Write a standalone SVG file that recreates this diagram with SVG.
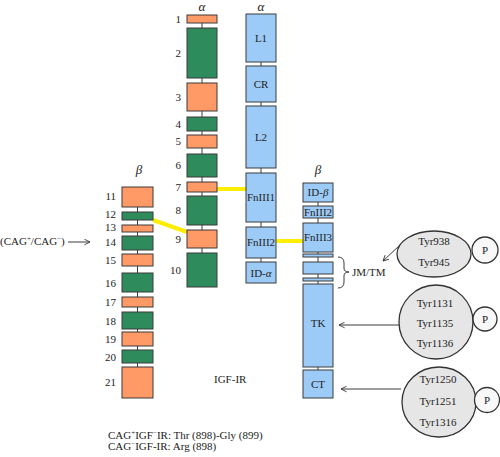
<svg xmlns="http://www.w3.org/2000/svg" width="500" height="457" viewBox="0 0 500 457">
<defs>
<style>
.o{fill:#FF9966;stroke:#3a3a3a;stroke-width:1}
.g{fill:#2E8B5C;stroke:#3a3a3a;stroke-width:1}
.b{fill:#9DCBF7;stroke:#3a3a3a;stroke-width:1}
.c{stroke:#3a3a3a;stroke-width:1;fill:none}
.y{stroke:#FFEE00;stroke-width:4;fill:none}
.t{font-family:"Liberation Serif","Times New Roman",serif;font-size:11px;fill:#222}
.n{font-family:"Liberation Serif","Times New Roman",serif;font-size:11px;fill:#222;text-anchor:end}
.m{text-anchor:middle}
.gr{font-family:"Liberation Serif","Times New Roman",serif;font-size:13px;font-style:italic;fill:#222;text-anchor:middle}
.e{fill:#E6E6E6;stroke:#333;stroke-width:1.3}
.p{fill:#F8F8F8;stroke:#333;stroke-width:1.3}
.a{stroke:#3a3a3a;stroke-width:1;fill:none}
</style>
<marker id="ah" viewBox="0 0 10 10" refX="9" refY="5" markerWidth="7" markerHeight="7" orient="auto" markerUnits="userSpaceOnUse">
<path d="M1,1 L9,5 L1,9" fill="none" stroke="#3a3a3a" stroke-width="1.3"/>
</marker>
</defs>
<rect width="500" height="457" fill="#fff"/>

<g id="connectors">
<line class="c" x1="202" y1="19" x2="202" y2="270"/>
<line class="c" x1="261" y1="20" x2="261" y2="275"/>
<line class="c" x1="137.5" y1="190" x2="137.5" y2="398"/>
<line class="c" x1="318" y1="190" x2="318" y2="390"/>
<line class="y" x1="217" y1="189" x2="246" y2="189"/>
<line class="y" x1="276" y1="241" x2="303" y2="241"/>
<line class="y" x1="153" y1="220" x2="187" y2="232"/>
<line class="a" x1="68" y1="242" x2="90" y2="242" marker-end="url(#ah)"/>
<line class="a" x1="400" y1="245" x2="383" y2="261" marker-end="url(#ah)"/>
<line class="a" x1="399" y1="325" x2="339" y2="325" marker-end="url(#ah)"/>
<line class="a" x1="401" y1="389" x2="341" y2="389" marker-end="url(#ah)"/>
<path class="a" d="M338,257 Q344,257 344,263 L344,268 Q344,272 349,272 Q344,272 344,276 L344,282 Q344,288 338,288"/>
</g>

<g id="alpha-exons">
<text class="gr" x="202" y="11">α</text>
<rect class="o" x="187" y="15" width="30" height="8"/>
<rect class="g" x="187" y="28" width="30" height="50"/>
<rect class="o" x="187" y="83" width="30" height="28"/>
<rect class="g" x="187" y="117" width="30" height="14"/>
<rect class="o" x="187" y="135" width="30" height="13"/>
<rect class="g" x="187" y="154" width="30" height="23"/>
<rect class="o" x="187" y="182" width="30" height="10"/>
<rect class="g" x="187" y="196" width="30" height="29"/>
<rect class="o" x="187" y="230" width="30" height="18"/>
<rect class="g" x="187" y="253" width="30" height="34"/>
<text class="n" x="181" y="23">1</text>
<text class="n" x="181" y="57">2</text>
<text class="n" x="181" y="101">3</text>
<text class="n" x="181" y="128">4</text>
<text class="n" x="181" y="145">5</text>
<text class="n" x="181" y="169">6</text>
<text class="n" x="181" y="191">7</text>
<text class="n" x="181" y="214">8</text>
<text class="n" x="181" y="243">9</text>
<text class="n" x="181" y="274">10</text>
</g>

<g id="alpha-domains">
<text class="gr" x="261" y="11">α</text>
<rect class="b" x="246" y="14" width="30" height="48"/>
<rect class="b" x="246" y="66" width="30" height="36"/>
<rect class="b" x="246" y="106" width="30" height="62"/>
<rect class="b" x="246" y="173" width="30" height="49"/>
<rect class="b" x="246" y="227" width="30" height="31"/>
<rect class="b" x="246" y="262" width="30" height="21"/>
<text class="t m" x="261" y="42">L1</text>
<text class="t m" x="261" y="88">CR</text>
<text class="t m" x="261" y="141">L2</text>
<text class="t m" x="261" y="201" font-size="10.5">FnIII1</text>
<text class="t m" x="261" y="246" font-size="10.5">FnIII2</text>
<text class="t m" x="261" y="277">ID-<tspan font-style="italic">α</tspan></text>
</g>

<g id="beta-exons">
<text class="gr" x="139" y="174">β</text>
<rect class="o" x="122" y="187" width="31" height="20"/>
<rect class="g" x="122" y="212" width="31" height="8"/>
<rect class="o" x="122" y="225" width="31" height="7"/>
<rect class="g" x="122" y="236" width="31" height="14"/>
<rect class="o" x="122" y="254" width="31" height="12"/>
<rect class="g" x="122" y="273" width="31" height="19"/>
<rect class="o" x="122" y="297" width="31" height="10"/>
<rect class="g" x="122" y="312" width="31" height="17"/>
<rect class="o" x="122" y="332" width="31" height="14"/>
<rect class="g" x="122" y="350" width="31" height="13"/>
<rect class="o" x="122" y="367" width="31" height="31"/>
<text class="n" x="116" y="200">11</text>
<text class="n" x="116" y="218">12</text>
<text class="n" x="116" y="231">13</text>
<text class="n" x="116" y="246">14</text>
<text class="n" x="116" y="264">15</text>
<text class="n" x="116" y="287">16</text>
<text class="n" x="116" y="306">17</text>
<text class="n" x="116" y="325">18</text>
<text class="n" x="116" y="343">19</text>
<text class="n" x="116" y="361">20</text>
<text class="n" x="116" y="386">21</text>
</g>

<g id="beta-domains">
<text class="gr" x="318" y="174">β</text>
<rect class="b" x="303" y="183" width="30" height="19"/>
<rect class="b" x="303" y="206" width="30" height="12"/>
<rect class="b" x="303" y="223" width="30" height="29"/>
<rect class="b" x="303" y="254" width="30" height="3"/>
<rect class="b" x="303" y="262" width="30" height="12"/>
<rect class="b" x="303" y="278" width="30" height="3"/>
<rect class="b" x="303" y="284" width="30" height="83"/>
<rect class="b" x="303" y="370" width="30" height="28"/>
<text class="t m" x="318" y="196">ID-<tspan font-style="italic">β</tspan></text>
<text class="t m" x="318" y="216" font-size="10">FnIII2</text>
<text class="t m" x="318" y="241" font-size="10">FnIII3</text>
<text class="t m" x="318" y="327">TK</text>
<text class="t m" x="318" y="388">CT</text>
<text class="t" x="352" y="276">JM/TM</text>
</g>

<g id="tyr938">
<ellipse class="e" cx="434" cy="254" rx="37" ry="23"/>
<text class="t m" x="434" y="245">Tyr938</text>
<text class="t m" x="434" y="266">Tyr945</text>
<circle class="p" cx="485" cy="250" r="13"/>
<text class="t m" x="485" y="254">P</text>
</g>

<g id="tyr1131">
<circle class="e" cx="436" cy="322" r="37"/>
<text class="t m" x="435" y="307">Tyr1131</text>
<text class="t m" x="435" y="327">Tyr1135</text>
<text class="t m" x="435" y="347">Tyr1136</text>
<circle class="p" cx="485" cy="319" r="12"/>
<text class="t m" x="485" y="323">P</text>
</g>

<g id="tyr1250">
<ellipse class="e" cx="439" cy="402" rx="37" ry="35"/>
<text class="t m" x="438" y="383">Tyr1250</text>
<text class="t m" x="438" y="405">Tyr1251</text>
<text class="t m" x="438" y="426">Tyr1316</text>
<circle class="p" cx="487" cy="400" r="12.5"/>
<text class="t m" x="487" y="404">P</text>
</g>

<g id="labels">
<text class="t" x="0" y="245">(CAG<tspan font-size="7" dy="-4">+</tspan><tspan dy="4">/CAG</tspan><tspan font-size="7" dy="-4">−</tspan><tspan dy="4">)</tspan></text>
<text class="t" x="214" y="383">IGF-IR</text>
<text class="t" x="108" y="439" font-size="10.5">CAG<tspan font-size="7" dy="-4">+</tspan><tspan dy="4">IGF</tspan><tspan font-size="7" dy="-4">−</tspan><tspan dy="4">IR: Thr (898)-Gly (899)</tspan></text>
<text class="t" x="108" y="450" font-size="10.5">CAG<tspan font-size="7" dy="-4">−</tspan><tspan dy="4">IGF-IR: Arg (898)</tspan></text>
</g>
</svg>
